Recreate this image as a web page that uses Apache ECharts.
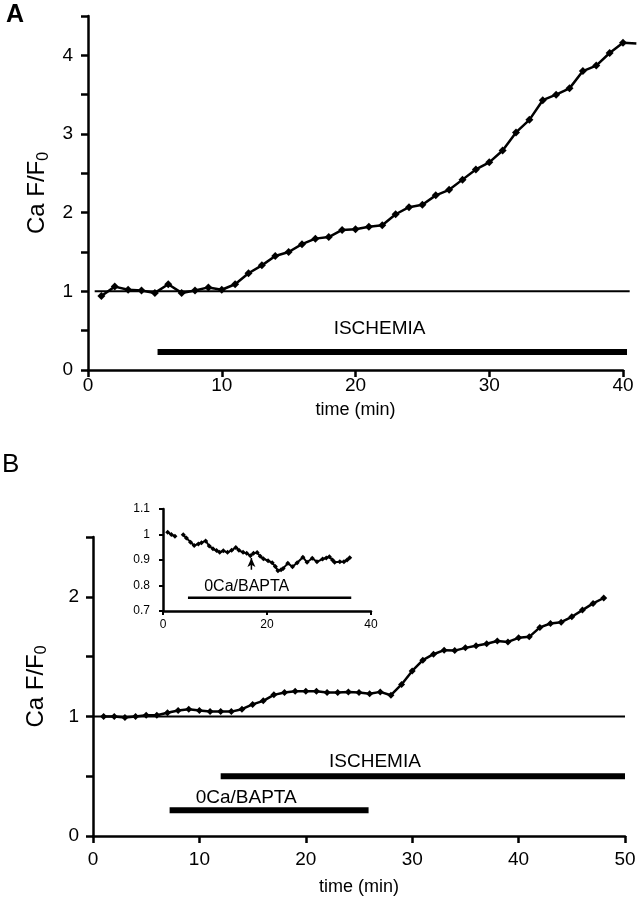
<!DOCTYPE html>
<html><head><meta charset="utf-8">
<script src="https://cdn.jsdelivr.net/npm/echarts@6/dist/echarts.min.js"></script>
<style>html,body{margin:0;padding:0;background:#fff}#c{width:637px;height:900px}</style>
</head><body><div id="c"></div>
<script>
// Panel A
const timeA = [1,2,3,4,5,6,7,8,9,10,11,12,13,14,15,16,17,18,19,20,21,22,23,24,25,26,27,28,29,30,31,32,33,34,35,36,37,38,39,40];
const caA = [0.94,1.06,1.02,1.01,0.98,1.09,0.98,1.01,1.05,1.02,1.09,1.23,1.33,1.45,1.50,1.60,1.67,1.69,1.78,1.79,1.82,1.84,1.98,2.07,2.10,2.22,2.29,2.42,2.55,2.64,2.79,3.02,3.18,3.43,3.50,3.58,3.80,3.87,4.03,4.16];
const tailA = [[40, 4.16], [41, 4.15]];
const baselineA = [[0.5,1],[40.5,1]];
const ischemiaA = [[5.2,0.23],[40.3,0.23]];
const labelA = [21.8, 0.53, 'ISCHEMIA'];
const yTicksA = [0,1,2,3,4];

// Panel B
const timeB = [1,2,3,4,5,6,7,8,9,10,11,12,13,14,15,16,17,18,19,20,21,22,23,24,25,26,27,28,29,30,31,32,33,34,35,36,37,38,39,40,41,42,43,44,45,46,47,48];
const caB = [1.00,1.00,0.99,1.00,1.01,1.01,1.03,1.05,1.06,1.05,1.04,1.04,1.04,1.06,1.10,1.13,1.18,1.20,1.21,1.21,1.21,1.20,1.20,1.205,1.20,1.19,1.205,1.177,1.267,1.38,1.47,1.52,1.554,1.55,1.573,1.59,1.607,1.63,1.623,1.657,1.665,1.744,1.777,1.788,1.833,1.889,1.945,1.99];
const baselineB = [[0,1],[50,1]];
const ischemiaB = [[12,0.5],[50,0.5]];
const baptaB = [[7.2,0.215],[25.9,0.215]];
const labelIschB = [26.5, 0.62, 'ISCHEMIA'];
const labelBaptaB = [14.4, 0.32, '0Ca/BAPTA'];

// Inset
const timeIn = [0.9,1.6,2.3,3.1,3.9,4.5,5.3,6.0,6.8,7.4,8.2,8.9,9.6,10.3,10.9,11.6,12.4,13.2,14.0,14.6,15.4,16.1,16.8,17.4,18.1,18.7,19.3,20.2,21.0,21.6,22.1,22.7,23.1,24.0,24.9,25.8,26.9,27.7,28.7,29.6,30.7,31.4,32.0,32.6,33.0,34.0,34.8,35.4,35.9];
const caIn = [1.009,1.0,0.993,null,0.999,0.986,0.970,0.957,0.963,0.968,0.975,0.955,0.944,0.937,0.930,0.936,0.930,0.938,0.949,0.938,0.930,0.926,0.917,0.926,0.929,0.915,0.905,0.897,0.889,0.875,0.858,0.862,0.867,0.887,0.874,0.889,0.911,0.891,0.907,0.893,0.904,0.908,0.913,0.900,0.891,0.893,0.893,0.900,0.909];
const baptaIn = [[4.8,0.752],[36.2,0.752]];
const labelBaptaIn = [16.1, 0.795, '0Ca/BAPTA'];
const arrowIn = [[17.0,0.862],[17.0,0.908]];

const FONT = 'Liberation Sans, Arial, sans-serif';
const pair = (xs, ys) => xs.map((x,i)=>[x, ys[i]]);

const axisLine = {show:true, lineStyle:{color:'#000', width:2.5}};
const axisTick = {show:true, inside:false, length:7, lineStyle:{color:'#000', width:2.5}};

const nameRich = {
  a:{fontSize:24, fontFamily:FONT, color:'#000'},
  s:{fontSize:16, fontFamily:FONT, color:'#000', padding:[12,0,0,0]}
};
const tickFont = {fontSize:19, fontFamily:FONT, color:'#000'};
const gridBase = {outerBoundsMode:'none', containLabel:false};
const textLabel = (size) => ({show:true, formatter:'{b}', position:'inside', fontSize:size, fontFamily:FONT,
  color:'#000', opacity:1, textBorderWidth:0, textBorderColor:'transparent', textShadowBlur:0});
const labelItem = {color:'#000', opacity:1};

// Panel A plot width: 0..40 spans 535px; data axis (hidden) spans 0..41 on the same scale
const wA = 535;
const wAdata = wA * 41 / 40;

const chart = echarts.init(document.getElementById('c'), null, {renderer:'canvas'});
const hiddenAxis = {show:false, axisLine:{show:false}, axisTick:{show:false}, axisLabel:{show:false}, splitLine:{show:false}};
const option = {
  animation:false,
  backgroundColor:'#fff',
  graphic:[
    {type:'text', left:6, top:3, style:{text:'A', font:'bold 25px '+FONT, fill:'#000'}},
    {type:'text', left:2, top:452, style:{text:'B', font:'26px '+FONT, fill:'#000'}}
  ],
  grid:[
    Object.assign({left:88, top:16, width:wA, height:354}, gridBase),
    Object.assign({left:93, top:537, width:532, height:299}, gridBase),
    Object.assign({left:163, top:509, width:208, height:102}, gridBase),
    Object.assign({left:88, top:16, width:wAdata, height:354}, gridBase)
  ],
  xAxis:[
    {gridIndex:0, type:'value', min:0, max:40, interval:10,
     name:'time (min)', nameLocation:'middle', nameGap:31,
     nameTextStyle:{fontSize:18, fontFamily:FONT, color:'#000'},
     axisLine, axisTick, splitLine:{show:false},
     axisLabel:Object.assign({margin:6}, tickFont)},
    {gridIndex:1, type:'value', min:0, max:50, interval:10,
     name:'time (min)', nameLocation:'middle', nameGap:42,
     nameTextStyle:{fontSize:18, fontFamily:FONT, color:'#000'},
     axisLine, axisTick, splitLine:{show:false},
     axisLabel:Object.assign({margin:14}, tickFont)},
    {gridIndex:2, type:'value', min:0, max:40, interval:20,
     axisLine:{show:true, lineStyle:{color:'#000', width:2.5}},
     axisTick:{show:true, length:4, lineStyle:{color:'#000', width:2}}, splitLine:{show:false},
     axisLabel:{fontSize:12, fontFamily:FONT, color:'#000', margin:8}},
    Object.assign({gridIndex:3, type:'value', min:0, max:41}, hiddenAxis)
  ],
  yAxis:[
    {gridIndex:0, type:'value', min:0, max:4.5, interval:0.5,
     name:'{a|Ca F/F}{s|0}', nameLocation:'middle', nameGap:30, nameRotate:90,
     nameTextStyle:{rich:nameRich},
     axisLine, axisTick, splitLine:{show:false},
     axisLabel:Object.assign({margin:15, formatter:v=> yTicksA.includes(v)? String(v):''}, tickFont)},
    {gridIndex:1, type:'value', min:0, max:2.5, interval:0.5,
     name:'{a|Ca F/F}{s|0}', nameLocation:'middle', nameGap:43, nameRotate:90,
     nameTextStyle:{rich:nameRich},
     axisLine, axisTick, splitLine:{show:false},
     axisLabel:Object.assign({margin:14, formatter:v=> Number.isInteger(v)? String(v):''}, tickFont)},
    {gridIndex:2, type:'value', min:0.7, max:1.1, interval:0.1,
     axisLine:{show:true, lineStyle:{color:'#000', width:2.5}},
     axisTick:{show:true, length:4, lineStyle:{color:'#000', width:2}}, splitLine:{show:false},
     axisLabel:{fontSize:12, fontFamily:FONT, color:'#000', margin:13,
       formatter:v=> String(Math.round(v*10)/10)}},
    Object.assign({gridIndex:3, type:'value', min:0, max:4.5}, hiddenAxis)
  ],
  series:[
    // Panel A (drawn on the 0..41 data axis that shares panel A's scale)
    {type:'line', xAxisIndex:3, yAxisIndex:3, data:baselineA, symbol:'none',
     lineStyle:{color:'#000', width:2}},
    {type:'line', xAxisIndex:3, yAxisIndex:3, data:ischemiaA, symbol:'none',
     lineStyle:{color:'#000', width:6}},
    {type:'line', xAxisIndex:3, yAxisIndex:3, data:tailA, symbol:'none',
     lineStyle:{color:'#000', width:2.5}},
    {type:'line', xAxisIndex:3, yAxisIndex:3, data: pair(timeA, caA),
     symbol:'diamond', symbolSize:8, itemStyle:{color:'#000'}, lineStyle:{color:'#000', width:2.5}},
    {type:'scatter', xAxisIndex:3, yAxisIndex:3, symbolSize:0, itemStyle:labelItem,
     data:[{value:[labelA[0],labelA[1]], name:labelA[2]}],
     label:textLabel(19)},
    // Panel B
    {type:'line', xAxisIndex:1, yAxisIndex:1, data:baselineB, symbol:'none', clip:false,
     lineStyle:{color:'#000', width:2}},
    {type:'line', xAxisIndex:1, yAxisIndex:1, data:ischemiaB, symbol:'none', clip:false,
     lineStyle:{color:'#000', width:6}},
    {type:'line', xAxisIndex:1, yAxisIndex:1, data:baptaB, symbol:'none', clip:false,
     lineStyle:{color:'#000', width:6}},
    {type:'line', xAxisIndex:1, yAxisIndex:1, data:pair(timeB, caB),
     symbol:'diamond', symbolSize:7, itemStyle:{color:'#000'}, lineStyle:{color:'#000', width:2.5}},
    {type:'scatter', xAxisIndex:1, yAxisIndex:1, symbolSize:0, itemStyle:labelItem,
     data:[{value:[labelIschB[0],labelIschB[1]], name:labelIschB[2]},
           {value:[labelBaptaB[0],labelBaptaB[1]], name:labelBaptaB[2]}],
     label:textLabel(19)},
    // Inset
    {type:'line', xAxisIndex:2, yAxisIndex:2, data:pair(timeIn, caIn), connectNulls:false,
     symbol:'diamond', symbolSize:5, itemStyle:{color:'#000'}, lineStyle:{color:'#000', width:2}},
    {type:'line', xAxisIndex:2, yAxisIndex:2, data:baptaIn, symbol:'none', clip:false,
     lineStyle:{color:'#000', width:2.5}},
    {type:'line', xAxisIndex:2, yAxisIndex:2,
     data:[{value:arrowIn[0], symbol:'none'},{value:arrowIn[1], symbol:'arrow', symbolSize:[6,9]}],
     itemStyle:{color:'#000'}, lineStyle:{color:'#000', width:1.5}},
    {type:'scatter', xAxisIndex:2, yAxisIndex:2, symbolSize:0, itemStyle:labelItem,
     data:[{value:[labelBaptaIn[0],labelBaptaIn[1]], name:labelBaptaIn[2]}],
     label:textLabel(16)}
  ]
};
chart.setOption(option);
</script></body></html>
